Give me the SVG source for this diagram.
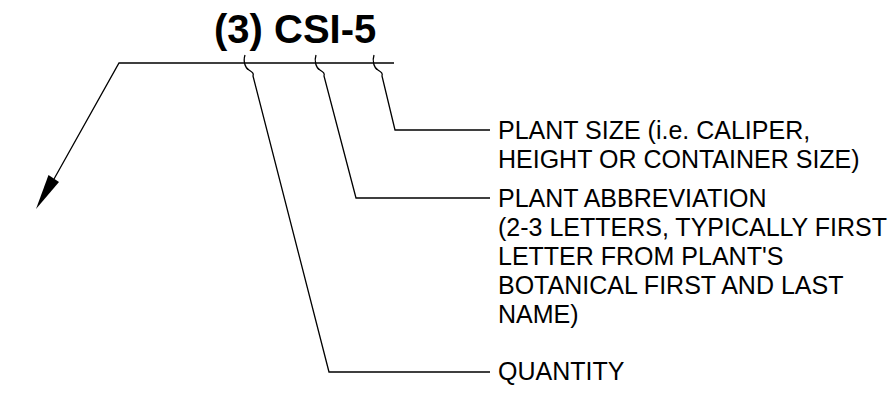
<svg xmlns="http://www.w3.org/2000/svg" width="894" height="397" viewBox="0 0 894 397">
<style>
.ln{fill:none;stroke:#000;stroke-width:1.3;stroke-linejoin:miter}
.lbl{font-family:"Liberation Sans",Arial,sans-serif;font-size:25px;fill:#000}
.ttl{font-family:"Liberation Sans",Arial,sans-serif;font-size:40px;font-weight:bold;fill:#000}
</style>
<rect width="894" height="397" fill="#fff"/>
<g id="tag">
<text class="ttl" x="214" y="43">(3) CSI-5</text>
</g>
<g id="connectors">
<path class="ln" d="M394,63 L119,63 L54,179"/>
<polygon points="36,209 48.5,175 59,182" fill="#000"/>
<path class="ln" d="M245,55 C243,61 245,68 249,70 C252,72 254,73 253,76 L329,372 L490,372"/>
<path class="ln" d="M316,55 C314,61 316,68 320,70 C323,72 325,73 324,76 L356,198 L490,198"/>
<path class="ln" d="M374,55 C372,61 374,68 378,70 C381,72 383,73 382,76 L395,130 L490,130"/>
</g>
<g id="size">
<text class="lbl" x="498" y="139">PLANT SIZE (i.e. CALIPER,</text>
<text class="lbl" x="498" y="168">HEIGHT OR CONTAINER SIZE)</text>
</g>
<g id="abbreviation">
<text class="lbl" x="498" y="207">PLANT ABBREVIATION</text>
<text class="lbl" x="498" y="236">(2-3 LETTERS, TYPICALLY FIRST</text>
<text class="lbl" x="498" y="265">LETTER FROM PLANT'S</text>
<text class="lbl" x="498" y="294">BOTANICAL FIRST AND LAST</text>
<text class="lbl" x="498" y="323">NAME)</text>
</g>
<g id="quantity">
<text class="lbl" x="498" y="380">QUANTITY</text>
</g>
</svg>
